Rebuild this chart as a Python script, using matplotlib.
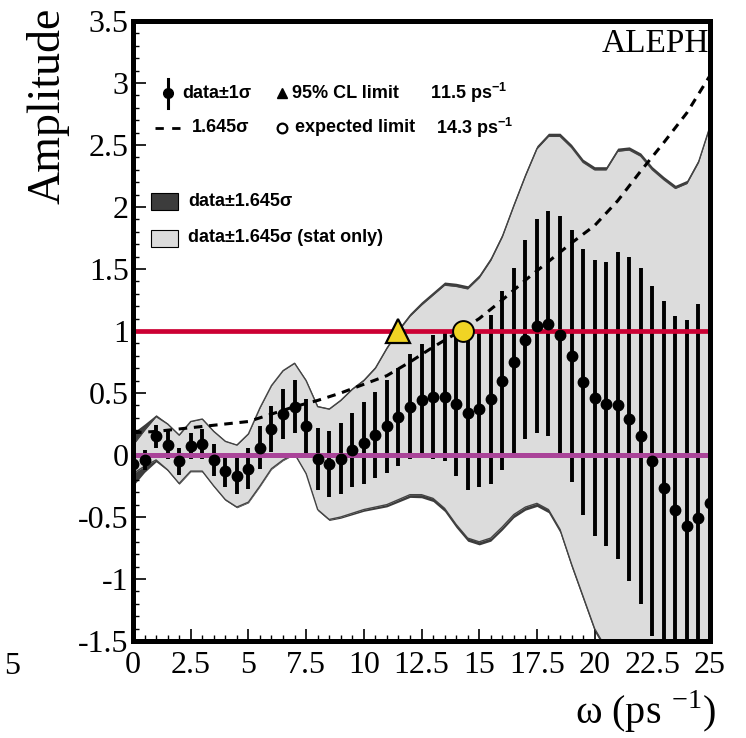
import numpy as np
import matplotlib
matplotlib.use('Agg')
import matplotlib.pyplot as plt
from matplotlib.patches import Rectangle
from matplotlib.ticker import MultipleLocator, FormatStrFormatter

plt.rcParams['font.family'] = 'Liberation Serif'
plt.rcParams['axes.unicode_minus'] = False
plt.rcParams['mathtext.fontset'] = 'custom'
plt.rcParams['mathtext.rm'] = 'Liberation Serif'
plt.rcParams['mathtext.bf'] = 'Liberation Sans:bold'

# oscillation frequency scan points (ps^-1)
omega = np.arange(0, 25.5, 0.5)

# measured amplitude and its 1 sigma error
amp = [-0.07, -0.04, 0.15, 0.08, -0.05, 0.07, 0.09, -0.04, -0.13, -0.17, -0.11,
       0.06, 0.21, 0.33, 0.39, 0.23, -0.03, -0.07, -0.03, 0.04, 0.10,
       0.16, 0.23, 0.31, 0.39, 0.44, 0.47, 0.47, 0.41, 0.34, 0.37,
       0.45, 0.60, 0.75, 0.93, 1.04, 1.06, 0.97, 0.80, 0.59, 0.46,
       0.41, 0.40, 0.29, 0.15, -0.05, -0.27, -0.44, -0.57, -0.51, -0.39]
sigma = [0.11, 0.08, 0.095, 0.11, 0.11, 0.105, 0.12, 0.13, 0.125, 0.145, 0.165,
         0.17, 0.185, 0.20, 0.215, 0.22, 0.25, 0.265, 0.285, 0.30, 0.33,
         0.345, 0.375, 0.395, 0.425, 0.455, 0.50, 0.515, 0.58, 0.62, 0.625,
         0.68, 0.72, 0.755, 0.80, 0.865, 0.905, 0.955, 1.015, 1.07, 1.115,
         1.145, 1.24, 1.31, 1.355, 1.41, 1.51, 1.56, 1.66, 1.73, 1.75]

# data +- 1.645 sigma (stat only) band edges
band_hi = [0.08, 0.20, 0.31, 0.25, 0.16, 0.27, 0.29, 0.19, 0.11, 0.08, 0.17,
           0.38, 0.56, 0.68, 0.74, 0.60, 0.39, 0.37, 0.44, 0.53, 0.60,
           0.70, 0.86, 1.00, 1.12, 1.21, 1.29, 1.37, 1.36, 1.34, 1.43,
           1.57, 1.76, 2.01, 2.25, 2.47, 2.57, 2.57, 2.48, 2.36, 2.30,
           2.30, 2.45, 2.46, 2.41, 2.30, 2.22, 2.15, 2.19, 2.36, 2.65]
band_lo = [-0.15, -0.09, -0.04, -0.12, -0.23, -0.13, -0.13, -0.25, -0.36, -0.42, -0.38,
           -0.25, -0.11, -0.04, 0.01, -0.15, -0.44, -0.52, -0.50, -0.47, -0.44,
           -0.42, -0.40, -0.36, -0.32, -0.32, -0.35, -0.43, -0.56, -0.67, -0.70,
           -0.67, -0.58, -0.48, -0.42, -0.39, -0.44, -0.60, -0.88, -1.14, -1.40,
           -1.56, -1.70, -1.85, -2.00, -2.10, -2.20, -2.30, -2.40, -2.50, -2.60]
# extra width of the full (stat+syst) band
syst_pad = [0.10, 0.05, 0.015, 0.006, 0.006, 0.006, 0.006, 0.006, 0.006, 0.006, 0.006,
            0.006, 0.006, 0.006, 0.006, 0.006, 0.008, 0.008, 0.010, 0.012, 0.014,
            0.016, 0.018, 0.020, 0.022, 0.025, 0.025, 0.025, 0.025, 0.025, 0.025,
            0.025, 0.025, 0.025, 0.025, 0.025, 0.025, 0.025, 0.025, 0.025, 0.025,
            0.025, 0.025, 0.025, 0.025, 0.025, 0.025, 0.025, 0.025, 0.025, 0.025]

# 1.645 sigma sensitivity curve
sens_w = [0, 1, 2, 3, 4, 5, 6, 7, 8, 9, 10, 11, 12, 13, 14, 15, 16, 17, 18, 19, 20,
          21, 22, 23, 24, 25]
sens_y = [0.18, 0.19, 0.21, 0.23, 0.25, 0.27, 0.33, 0.39, 0.44, 0.50, 0.57, 0.64, 0.75,
          0.87, 0.98, 1.10, 1.25, 1.41, 1.56, 1.71, 1.85, 2.05, 2.29, 2.52, 2.76, 3.06]

limit_95 = 11.5
limit_exp = 14.3

amp = np.array(amp)
sigma = np.array(sigma)
band_hi = np.array(band_hi)
band_lo = np.array(band_lo)
syst_pad = np.array(syst_pad)

W, H = 746, 738
fig = plt.figure(figsize=(W / 100, H / 100), dpi=100)
ax = fig.add_axes([133 / W, 97 / H, 577 / W, 620 / H])

light = '#dcdcdc'
dark = '#3c3c3c'
yellow = '#f0d424'

# bands
ax.fill_between(omega, band_lo - syst_pad, band_hi + syst_pad, color=dark, lw=0, zorder=1)
ax.fill_between(omega, band_lo, band_hi, color=light, lw=0, zorder=2)
ax.plot(omega, band_hi, color='#444444', lw=1.0, zorder=2.5)
ax.plot(omega, band_lo, color='#444444', lw=1.0, zorder=2.5)

# error bars and points
ax.vlines(omega, amp - sigma, amp + sigma, color='black', lw=2.8, zorder=4)
ax.axhline(1, color='#cc0033', lw=3.4, zorder=5)
ax.axhline(0, color='#aa4499', lw=3.6, zorder=5)
ax.plot(sens_w, sens_y, color='black', lw=2.2, linestyle=(0, (2.8, 2.2)), zorder=5.5)
ax.plot(omega, amp, 'o', color='black', ms=7.5, zorder=6)

ax.plot([limit_95], [1], '^', ms=17, mfc=yellow, mec='black', mew=1.6, zorder=7)
ax.plot([limit_exp], [1], 'o', ms=15, mfc=yellow, mec='black', mew=1.4, zorder=7)

ax.set_xlim(0, 25)
ax.set_ylim(-1.5, 3.5)
ax.xaxis.set_major_locator(MultipleLocator(2.5))
ax.xaxis.set_minor_locator(MultipleLocator(0.5))
ax.yaxis.set_major_locator(MultipleLocator(0.5))
ax.yaxis.set_minor_locator(MultipleLocator(0.1))
ax.xaxis.set_major_formatter(FormatStrFormatter('%g'))
ax.yaxis.set_major_formatter(FormatStrFormatter('%g'))
ax.tick_params(which='both', direction='in', top=False, right=False, labelsize=23)
ax.tick_params(which='major', length=9, width=1.2)
ax.tick_params(which='minor', length=4.5, width=1.0)
ax.tick_params(axis='x', pad=7)
ax.tick_params(axis='y', pad=3)
for s in ax.spines.values():
    s.set_linewidth(3.6)
    s.set_zorder(10)


# legend drawn by hand, positions in picture pixels
def fx(x):
    return (x - 133) / 577


def fy(y):
    return (641 - y) / 620


lt = dict(transform=ax.transAxes, family='Liberation Sans', weight='bold',
          fontsize=13, va='center', ha='left', zorder=12)
ax.plot([fx(168), fx(168)], [fy(79), fy(108)], color='black', lw=2.2,
        transform=ax.transAxes, clip_on=False, zorder=12)
ax.plot([fx(168)], [fy(93)], 'o', color='black', ms=7, transform=ax.transAxes,
        clip_on=False, zorder=12)
ax.text(fx(182), fy(93), 'data\u00b11\u03c3', **lt)
ax.plot([fx(282)], [fy(93)], '^', color='black', ms=7, transform=ax.transAxes,
        clip_on=False, zorder=12)
ax.text(fx(292), fy(93), '95% CL limit', **lt)
ax.text(fx(430), fy(93), r'11.5 ps$^{\mathbf{-1}}$', **lt)

ax.plot([fx(155), fx(180)], [fy(128), fy(128)], color='black', lw=2.0,
        linestyle=(0, (3, 3)), transform=ax.transAxes, clip_on=False, zorder=12)
ax.text(fx(192), fy(128), '1.645\u03c3', **lt)
ax.plot([fx(282)], [fy(128)], 'o', mfc='white', mec='black', mew=1.6, ms=7,
        transform=ax.transAxes, clip_on=False, zorder=12)
ax.text(fx(295), fy(128), 'expected limit', **lt)
ax.text(fx(436), fy(128), r'14.3 ps$^{\mathbf{-1}}$', **lt)

ax.add_patch(Rectangle((fx(151), fy(210)), fx(178) - fx(151), fy(193) - fy(210),
                       transform=ax.transAxes, facecolor=dark, edgecolor='black',
                       lw=0.8, zorder=12))
ax.text(fx(188), fy(202), 'data\u00b11.645\u03c3', **lt)
ax.add_patch(Rectangle((fx(151), fy(247)), fx(178) - fx(151), fy(230) - fy(247),
                       transform=ax.transAxes, facecolor=light, edgecolor='black',
                       lw=0.8, zorder=12))
ax.text(fx(188), fy(238), 'data\u00b11.645\u03c3 (stat only)', **lt)

ax.text(fx(709), fy(44), 'ALEPH', transform=ax.transAxes, fontsize=24,
        ha='right', va='center', zorder=12)

fig.text(48 / W, 1 - 8 / H, 'Amplitude', rotation=90, fontsize=33,
         ha='center', va='top')
fig.text(716 / W, 1 - 712 / H, '\u03c9 (ps $^{-1}$)', fontsize=29,
         ha='right', va='center')
fig.text(12 / W, 1 - 666 / H, '5', fontsize=23, ha='center', va='center')

fig.savefig('out.png', dpi=100)
